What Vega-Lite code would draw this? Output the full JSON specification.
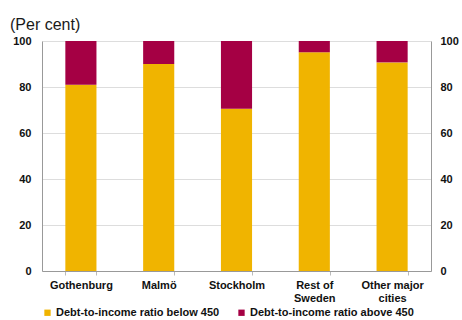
{
  "$schema": "https://vega.github.io/schema/vega-lite/v6.json",
  "width": 389,
  "height": 230,
  "autosize": "none",
  "padding": {"left": 42, "top": 41, "right": 31, "bottom": 49},
  "background": "white",
  "title": {
    "text": "(Per cent)",
    "anchor": "start",
    "frame": "group",
    "dx": -32,
    "offset": 2,
    "font": "Liberation Sans",
    "fontSize": 16,
    "fontWeight": "normal",
    "color": "#1a1a1a"
  },
  "data": {
    "values": [
      {"city": "Gothenburg", "group": "Debt-to-income ratio below 450", "o": 1, "value": 81},
      {"city": "Gothenburg", "group": "Debt-to-income ratio above 450", "o": 2, "value": 19},
      {"city": "Malmö", "group": "Debt-to-income ratio below 450", "o": 1, "value": 90},
      {"city": "Malmö", "group": "Debt-to-income ratio above 450", "o": 2, "value": 10},
      {"city": "Stockholm", "group": "Debt-to-income ratio below 450", "o": 1, "value": 70.5},
      {"city": "Stockholm", "group": "Debt-to-income ratio above 450", "o": 2, "value": 29.5},
      {"city": "Rest of Sweden", "group": "Debt-to-income ratio below 450", "o": 1, "value": 95.1},
      {"city": "Rest of Sweden", "group": "Debt-to-income ratio above 450", "o": 2, "value": 4.9},
      {"city": "Other major cities", "group": "Debt-to-income ratio below 450", "o": 1, "value": 90.7},
      {"city": "Other major cities", "group": "Debt-to-income ratio above 450", "o": 2, "value": 9.3}
    ]
  },
  "encoding": {
    "x": {
      "field": "city",
      "type": "nominal",
      "sort": null,
      "scale": {"paddingInner": 0.6, "paddingOuter": 0.3},
      "axis": {
        "title": null,
        "labelAngle": 0,
        "tickBand": "extent",
        "tickSize": 4,
        "tickColor": "#bbbbbb",
        "domainColor": "#999999",
        "labelFont": "Liberation Sans",
        "labelFontSize": 11,
        "labelFontWeight": "bold",
        "labelColor": "#111111",
        "labelPadding": 4,
        "labelLineHeight": 13,
        "labelExpr": "datum.label == 'Rest of Sweden' ? ['Rest of', 'Sweden'] : datum.label == 'Other major cities' ? ['Other major', 'cities'] : datum.label"
      }
    },
    "y": {
      "field": "value",
      "type": "quantitative",
      "stack": "zero",
      "scale": {"domain": [0, 100]}
    },
    "order": {"field": "o", "type": "quantitative"}
  },
  "layer": [
    {
      "mark": {"type": "bar"},
      "encoding": {
        "y": {
          "field": "value",
          "type": "quantitative",
          "stack": "zero",
          "scale": {"domain": [0, 100]},
          "axis": {
            "title": null,
            "orient": "left",
            "values": [0, 20, 40, 60, 80, 100],
            "grid": true,
            "gridColor": "#dddddd",
            "tickSize": 0,
            "domainColor": "#999999",
            "labelFont": "Liberation Sans",
            "labelFontSize": 11,
            "labelFontWeight": "bold",
            "labelColor": "#111111",
            "labelPadding": 11
          }
        },
        "color": {
          "field": "group",
          "type": "nominal",
          "scale": {
            "domain": ["Debt-to-income ratio below 450", "Debt-to-income ratio above 450"],
            "range": ["#F0B400", "#A50044"]
          },
          "legend": {
            "title": null,
            "orient": "bottom",
            "direction": "horizontal",
            "symbolType": "square",
            "symbolSize": 40,
            "symbolStrokeWidth": 0,
            "labelFont": "Liberation Sans",
            "labelFontSize": 11,
            "labelFontWeight": "bold",
            "labelColor": "#111111",
            "labelLimit": 0,
            "labelOffset": 3,
            "columnPadding": 16,
            "offset": 4
          }
        }
      }
    },
    {
      "mark": {"type": "bar", "opacity": 0},
      "encoding": {
        "y": {
          "field": "value",
          "type": "quantitative",
          "stack": "zero",
          "scale": {"domain": [0, 100]},
          "axis": {
            "title": null,
            "orient": "right",
            "values": [0, 20, 40, 60, 80, 100],
            "grid": false,
            "tickSize": 0,
            "domainColor": "#999999",
            "labelFont": "Liberation Sans",
            "labelFontSize": 11,
            "labelFontWeight": "bold",
            "labelColor": "#111111",
            "labelPadding": 9
          }
        }
      }
    }
  ],
  "resolve": {"axis": {"y": "independent"}},
  "config": {"view": {"stroke": null}}
}
